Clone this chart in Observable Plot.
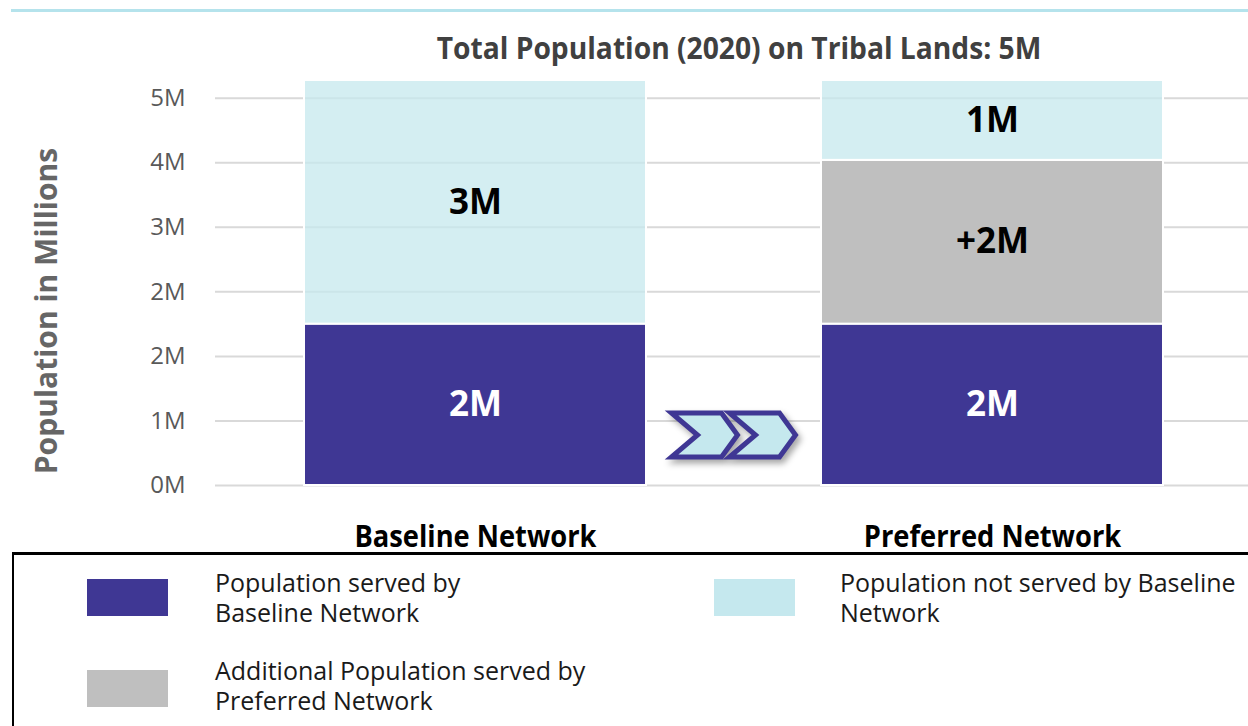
<!DOCTYPE html>
<html>
<head>
<meta charset="utf-8">
<script src="https://cdn.jsdelivr.net/npm/d3@7"></script>
<script src="https://cdn.jsdelivr.net/npm/@observablehq/plot@0.6"></script>
<style>
  html, body { margin: 0; padding: 0; background: #fff; }
  #wrap { position: relative; width: 1248px; height: 726px; overflow: hidden; font-family: "Open Sans", sans-serif; }
  #topline { position: absolute; left: 11px; top: 9px; width: 1237px; height: 3px; background: #B5E3EC; }
  #title { position: absolute; top: 27px; left: 739px; transform: translateX(-50%) scaleX(0.94); white-space: nowrap; font-size: 30px; font-weight: 700; color: #404040; }
  #chart { position: absolute; left: 0; top: 0; }
  #ylabel { position: absolute; left: 45px; top: 311px; transform: translate(-50%, -50%) rotate(-90deg); white-space: nowrap; font-size: 30px; font-weight: 700; color: #666; }
  #legend { position: absolute; left: 12px; top: 552px; width: 1300px; height: 300px; border-top: 3px solid #000; border-left: 2px solid #000; }
  .sw { position: absolute; width: 81px; height: 37px; }
  .lt { position: absolute; font-size: 25px; line-height: 30px; color: #1a1a1a; white-space: nowrap; }
  .lt div { height: 30px; }
</style>
</head>
<body>
<div id="wrap">
  <div id="topline"></div>
  <div id="chart"></div>
  <div id="title"></div>
  <div id="ylabel"></div>
  <div id="legend"></div>
</div>
<script>
// ---- data ----
const chartTitle = "Total Population (2020) on Tribal Lands: 5M";
const yTitle = "Population in Millions";
const networks = ["Baseline Network", "Preferred Network"];
const segments = [
  "Population served by Baseline Network",
  "Additional Population served by Preferred Network",
  "Population not served by Baseline Network"
];
const segmentColors = ["#3F3794", "#BFBFBF", "#C5E8EE"];
const baselineValues = [2.0, 0, 3.02];
const preferredValues = [2.0, 2.03, 0.99];
const baselineLabels = ["2M", "", "3M"];
const preferredLabels = ["2M", "+2M", "1M"];
const yTicks = [0, 0.8, 1.6, 2.4, 3.2, 4.0, 4.8];
const yTickLabels = ["0M", "1M", "2M", "2M", "3M", "4M", "5M"];
const legendLines = [
  ["Population served by", "Baseline Network"],
  ["Additional Population served by", "Preferred Network"],
  ["Population not served by Baseline", "Network"]
];
const arrowLevel = [0.62]; // y position (in M) of the transition arrows

// ---- build table ----
const rows = [];
[[baselineValues, baselineLabels], [preferredValues, preferredLabels]].forEach(([vals, labs], n) => {
  vals.forEach((v, i) => rows.push({network: networks[n], segment: segments[i], value: v, label: labs[i], idx: i}));
});
const maxTotal = d3.max([baselineValues, preferredValues], a => d3.sum(a));

document.getElementById("title").textContent = chartTitle;
document.getElementById("ylabel").textContent = yTitle;

// chevron arrows drawn through the scales
function arrows(index, scales, values, dimensions) {
  const g = d3.create("svg:g").attr("filter", "drop-shadow(3px 4px 3px rgba(0,0,0,0.35))");
  const xl = scales.x(networks[0]) + scales.x.bandwidth();
  const xr = scales.x(networks[1]);
  const cx = (xl + xr) / 2;
  const cy = scales.y(arrowLevel[0]);
  const w = 66, h = 44, notch = 26, off = 58;
  const x0 = cx - (w + off) / 2;
  [0, 1].forEach(k => {
    const l = x0 + k * off, t = cy - h / 2;
    const pts = [[l, t], [l + w - 16, t], [l + w, cy], [l + w - 16, t + h], [l, t + h], [l + notch, cy]];
    g.append("path")
      .attr("d", "M" + pts.map(p => p.join(",")).join("L") + "Z")
      .attr("fill", segmentColors[2])
      .attr("stroke", segmentColors[0])
      .attr("stroke-width", 5)
      .attr("stroke-linejoin", "miter");
  });
  return g.node();
}

const chart = Plot.plot({
  width: 1248,
  height: 562,
  marginTop: 80,
  marginBottom: 77,
  marginLeft: 215,
  marginRight: 0,
  style: {fontFamily: "Open Sans, sans-serif", background: "transparent", overflow: "visible"},
  x: {domain: networks, range: [215, 1252], paddingInner: 0.338, paddingOuter: 0.17, label: null},
  y: {domain: [0, maxTotal], label: null},
  color: {domain: segments, range: segmentColors},
  marks: [
    Plot.ruleY(yTicks, {stroke: "#d9d9d9", strokeWidth: 2}),
    Plot.barY(rows, {x: "network", y: "value", fill: "segment", fillOpacity: d => d.idx === 2 ? 0.75 : 1, stroke: "white", strokeWidth: 2}),
    Plot.text(rows.filter(d => d.idx === 0), Plot.stackY({x: "network", y: "value", text: "label", fill: "white", fontSize: 35, fontWeight: "bold"})),
    Plot.text(rows, Plot.stackY({x: "network", y: "value", text: d => d.idx === 0 ? "" : d.label, fill: "black", fontSize: 35, fontWeight: "bold"})),
    arrows,
    Plot.axisY({ticks: yTicks, tickFormat: d => yTickLabels[yTicks.indexOf(d)], tickSize: 0, tickPadding: 30, fontSize: 24, color: "#595959", label: null}),
    Plot.axisX({tickSize: 0, tickPadding: 40, fontSize: 30, fontWeight: "bold", color: "black", label: null})
  ]
});
document.getElementById("chart").appendChild(chart);

// slightly condensed x labels (as in the reference)
chart.querySelectorAll("g[aria-label='x-axis tick label'] text").forEach(t => {
  const w = t.getComputedTextLength();
  t.setAttribute("textLength", (w * 0.91).toFixed(1));
  t.setAttribute("lengthAdjust", "spacingAndGlyphs");
});

// ---- legend ----
const legend = document.getElementById("legend");
const legendPos = [
  {sx: 73, sy: 24, tx: 201, ty: 12},
  {sx: 73, sy: 115, tx: 201, ty: 100},
  {sx: 700, sy: 24, tx: 826, ty: 12}
];
segments.forEach((s, i) => {
  const p = legendPos[i];
  const sw = document.createElement("div");
  sw.className = "sw";
  sw.style.left = p.sx + "px"; sw.style.top = p.sy + "px";
  sw.style.background = segmentColors[i];
  legend.appendChild(sw);
  const t = document.createElement("div");
  t.className = "lt";
  t.style.left = p.tx + "px"; t.style.top = p.ty + "px";
  legendLines[i].forEach(line => {
    const d = document.createElement("div");
    d.textContent = line;
    t.appendChild(d);
  });
  legend.appendChild(t);
});
</script>
</body>
</html>
